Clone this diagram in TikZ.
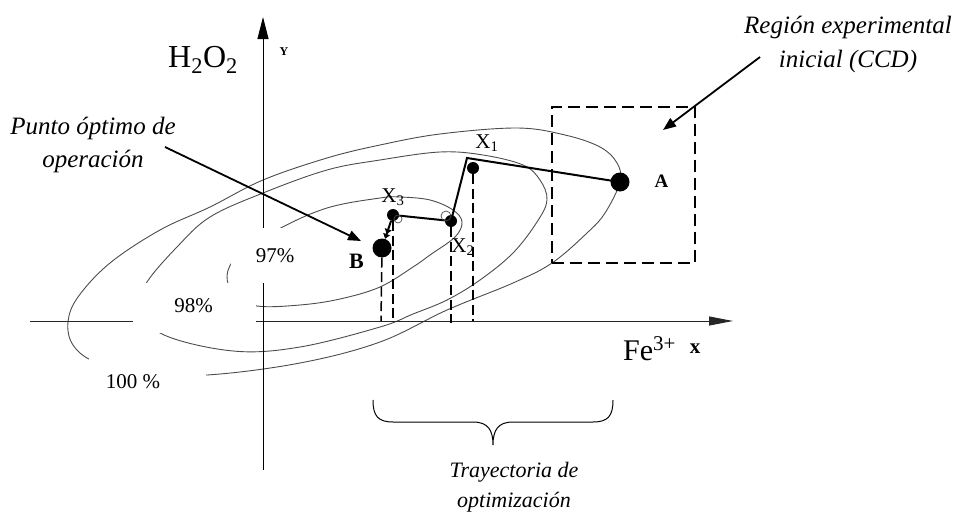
\documentclass[tikz,border=0pt]{standalone}
\usepackage{fontspec}
\setmainfont{Liberation Serif}
\usetikzlibrary{arrows.meta}
\begin{document}
\begin{tikzpicture}[x=1pt,y=-1pt,
  ell/.style={draw=black!70, line width=0.9pt},
  axisline/.style={line width=1pt, draw=black!85},
  traj/.style={line width=2pt},
  dropline/.style={line width=1.5pt, dash pattern=on 10pt off 4.5pt},
  ccdbox/.style={draw, line width=1.4pt, dash pattern=on 12pt off 6pt, inner sep=0pt},
  dot/.style={circle, fill=black, inner sep=0pt},
  callout/.style={line width=1.8pt, -{Triangle[length=13pt,width=10pt]}},
  itl/.style={font=\fontsize{25}{33}\selectfont\itshape, align=center, inner sep=0pt},
  num/.style={font=\fontsize{21}{25}\selectfont, inner sep=0pt, anchor=base},
  boldlbl/.style={font=\fontsize{20}{24}\selectfont\bfseries, inner sep=0pt, anchor=base},
  mask/.style={fill=white, draw=none}]
\useasboundingbox (0,0) rectangle (956,514);

% contour curves
\draw[ell] plot[smooth cycle, tension=0.6] coordinates {(68,322) (78,297) (110,263) (160,230) (210,207) (263,180) (327,158) (380,145) (440,134) (517,128) (565,135) (600,147) (617,163) (620,182) (605,213) (587,233) (552,263) (513,283) (447,310) (380,342) (300,363) (207,375) (140,373) (95,362) (73,345)};
\draw[ell] plot[smooth cycle, tension=0.6] coordinates {(140,305) (147,282) (177,247) (210,217) (263,193) (327,170) (380,160) (440,152) (483,155) (523,165) (540,180) (547,200) (537,222) (513,253) (480,280) (447,300) (413,314) (380,327) (300,347) (233,351) (162,334)};
\draw[ell] plot[smooth cycle, tension=0.6] coordinates {(227,276) (238,256) (277,230) (327,208) (380,198) (400,197) (430,200) (453,210) (462,222) (455,237) (430,255) (413,267) (380,287) (340,299) (300,305) (257,306) (235,295)};

% axes
\coordinate (xs) at (30,321);
\coordinate (xe) at (733,321);
\coordinate (ys) at (263,470);
\coordinate (ye) at (263,17);
\draw[axisline, -{Triangle[length=24pt,width=9pt]}] (xs) -- (xe);
\draw[axisline, draw=black, -{Triangle[length=22pt,width=11pt]}] (ys) -- (ye);

% white patches behind the percentage labels
\fill[mask] (231,228) rectangle (300,283);
\fill[mask] (133,283) rectangle (256,333);
\fill[mask] (89,352) rectangle (206,400);

% experimental region
\node[ccdbox, minimum width=143pt, minimum height=156pt] (ccd) at (623.5,185) {};

% points
\node[dot, minimum size=19pt] (A) at (620,182) {};
\node[dot, minimum size=12pt] (X1) at (473,168) {};
\node[dot, minimum size=12pt] (X2) at (451,221) {};
\node[dot, minimum size=12pt] (X3) at (393,215) {};
\node[dot, minimum size=19pt] (B) at (382,248) {};

% drop lines
\coordinate (X1f) at (473,321);
\coordinate (X2f) at (451,323);
\coordinate (X3f) at (393,321);
\coordinate (Bf) at (381,321);
\draw[dropline] (X1) -- (X1f);
\draw[dropline] (X2) -- (X2f);
\draw[dropline] (X3) -- (X3f);
\draw[dropline] (B) -- (Bf);

% trajectory
\coordinate (c1) at (467,158);
\draw[traj] (A.center) -- (c1) -- (X2.center) -- (X3.center);
\draw[traj, -{Triangle[length=5pt,width=7pt]Triangle[length=5pt,width=7pt]}] (X3) -- (B);
\draw[ell, line width=0.7pt] (446,216) circle[radius=5pt];
\draw[ell, line width=0.7pt] (398,219) circle[radius=4pt];

% callouts
\coordinate (pstart) at (165,147);
\coordinate (ptip) at (361,241);
\draw[callout] (pstart) -- (ptip);
\coordinate (rstart) at (760,57);
\coordinate (rtip) at (663,130);
\draw[callout] (rstart) -- (rtip);

% brace
\draw[line width=1pt] (373,400) .. controls (373,416) and (378,422) .. (393,422) -- (473,422) .. controls (488,422) and (493,430) .. (493,445) .. controls (493,430) and (498,422) .. (513,422) -- (593,422) .. controls (608,422) and (613,416) .. (613,400);

% labels
\node[itl] (punto) at (93,145) {Punto óptimo de\\operación};
\node[itl, font=\fontsize{25}{34}\selectfont\itshape] (region) at (848,44) {Región experimental\\inicial (CCD)};
\node[itl, font=\fontsize{22}{30}\selectfont\itshape] (tray) at (514,487) {Trayectoria de\\optimización};

\node[font=\fontsize{32}{36}\selectfont, inner sep=0pt, anchor=base west] (h2o2) at (168,67) {H\textsubscript{2}O\textsubscript{2}};
\node[font=\fontsize{30}{34}\selectfont, inner sep=0pt, anchor=base west] (fe) at (623,360) {Fe\textsuperscript{3+}};
\node[font=\fontsize{12}{14}\selectfont\bfseries, inner sep=0pt, anchor=base] (ylbl) at (284,55) {Y};
\node[font=\fontsize{21}{24}\selectfont\bfseries, inner sep=0pt, anchor=base] (xlbl) at (695,353) {x};

\node[num] (p97) at (275,262) {97\%};
\node[num] (p98) at (193.5,312) {98\%};
\node[num] (p100) at (133,388) {100 \%};

\node[num] (lx1) at (487,148) {X\textsubscript{1}};
\node[num] (lx2) at (463,252) {X\textsubscript{2}};
\node[num] (lx3) at (393,202) {X\textsubscript{3}};

\node[boldlbl, font=\fontsize{19}{24}\selectfont\bfseries] (la) at (661.5,187) {A};
\node[boldlbl, font=\fontsize{22}{24}\selectfont\bfseries] (lb) at (356.5,268) {B};
\end{tikzpicture}
\end{document}
